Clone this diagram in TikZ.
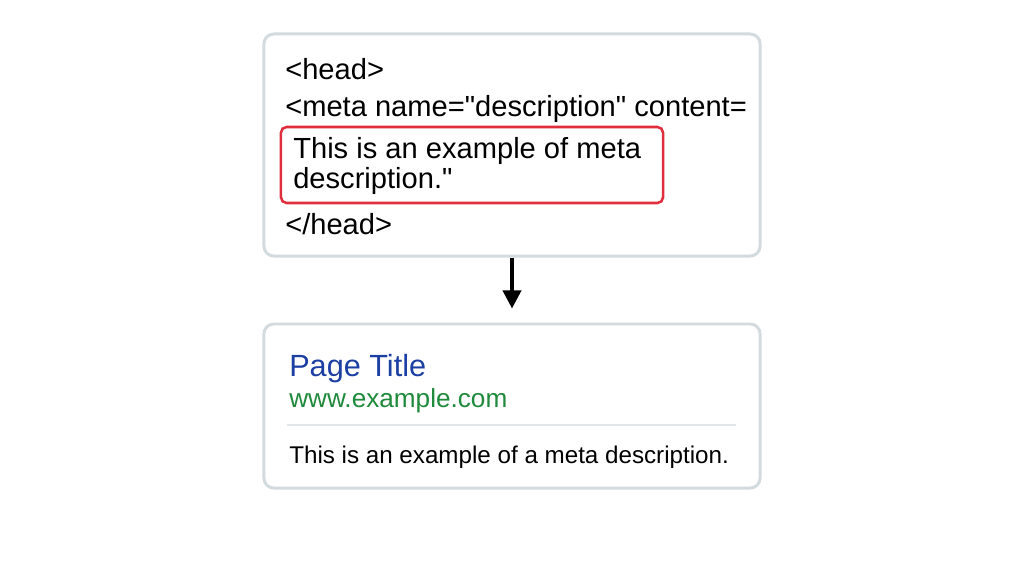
\documentclass[tikz,border=0pt]{standalone}
\usepackage{fontspec}
\setmainfont{Liberation Sans}
\usetikzlibrary{arrows.meta}

\definecolor{boxgray}{HTML}{D3DBDF}
\definecolor{rulegray}{HTML}{E2E6E8}
\definecolor{markred}{HTML}{DF2E3C}
\definecolor{titleblue}{HTML}{1C3FA3}
\definecolor{urlgreen}{HTML}{1F8A3B}

\tikzset{
  card/.style={draw=boxgray,line width=2.1pt,rounded corners=7pt,fill=white,
    minimum width=12.4cm,inner sep=0pt},
  codeline/.style={anchor=base west,inner sep=0pt,font=\fontsize{20.7}{24}\selectfont},
  snippet/.style={anchor=base west,inner sep=0pt}
}

\begin{document}
\begin{tikzpicture}[x=0.025cm,y=-0.025cm]
  \useasboundingbox[fill=white] (0,0) rectangle (1024,576);
  % source code card
  \node[card,minimum height=5.55cm] (code) at (512,145) {};
  \node[draw=markred,line width=1.8pt,rounded corners=4pt,minimum width=9.55cm,
    minimum height=1.9cm,inner sep=0pt] (mark) at (472,165) {};
  \node[codeline] (head) at (285,80) {<head>};
  \node[codeline] (meta) at (285,117) {<meta name=\textquotedbl description\textquotedbl{} content=};
  \node[codeline] (desca) at (293,159) {This is an example of meta};
  \node[codeline] (descb) at (293,189) {description.\textquotedbl};
  \node[codeline] (headend) at (285,235) {</head>};
  % search result card
  \node[card,minimum height=4.1cm] (serp) at (512,406) {};
  \node[snippet,font=\fontsize{21.8}{24}\selectfont,text=titleblue] (title) at (289,376) {Page Title};
  \node[snippet,font=\fontsize{18.6}{22}\selectfont,text=urlgreen] (url) at (289,407) {www.example.com};
  \coordinate (rulel) at (287,425);
  \coordinate (ruler) at (736,425);
  \draw[rulegray,line width=1.1pt] (rulel) -- (ruler);
  \node[snippet,font=\fontsize{17.2}{22}\selectfont] (desc) at (289,463) {This is an example of a meta description.};
  % arrow
  \draw[line width=2.6pt,-{Triangle[width=0.45cm,length=0.45cm]},shorten >=0.35cm] (code.south) -- (serp.north);
\end{tikzpicture}
\end{document}
